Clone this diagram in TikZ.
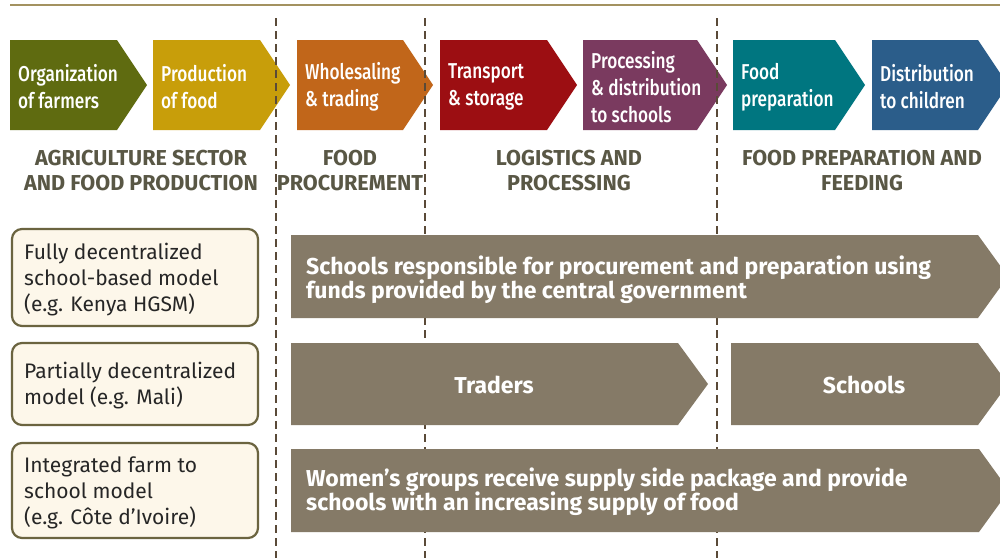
\documentclass[tikz,border=0pt]{standalone}
\usepackage{fontspec}
\setmainfont{Fira Sans}
\newfontfamily\condfont[FakeStretch=0.8, BoldFont={Fira Sans Medium}]{Fira Sans}
\usetikzlibrary{calc}
\definecolor{rulec}{HTML}{A39260}
\definecolor{dashc}{HTML}{5A4A38}
\definecolor{labc}{HTML}{595745}
\definecolor{boxfill}{HTML}{FDF7EA}
\definecolor{boxline}{HTML}{6B6440}
\definecolor{greyarrow}{HTML}{857A67}
\definecolor{colA}{HTML}{5F6B10}
\definecolor{colB}{HTML}{C89E0A}
\definecolor{colC}{HTML}{C1661A}
\definecolor{colD}{HTML}{9C0E12}
\definecolor{colE}{HTML}{7A3A5F}
\definecolor{colF}{HTML}{007680}
\definecolor{colG}{HTML}{2B5D8A}
\tikzset{
  chevtext/.style={anchor=west, inner sep=0pt, align=left, text=white,
    font=\condfont\bfseries\fontsize{21.5}{27}\selectfont},
  rowtext/.style={inner sep=0pt, align=left, text=white,
    font=\bfseries\fontsize{23}{24}\selectfont},
  seclabel/.style={inner sep=0pt, align=center, text=labc,
    font=\bfseries\fontsize{21.6}{25}\selectfont},
  modelbox/.style={draw=boxline, fill=boxfill, line width=2.2pt, rounded corners=10pt},
  modeltext/.style={anchor=west, inner sep=0pt, align=left, text=black!85,
    font=\fontsize{21}{26}\selectfont},
  divider/.style={draw=dashc, line width=2.2pt, dash pattern=on 8pt off 5pt},
}
% name, x1, x2 (end of straight part), y1, y2, colour
\newcommand\chevshape[6]{%
  \fill[#6] (#2,#4) -- (#3,#4) -- ({#3+30},{(#4+#5)/2}) -- (#3,#5) -- (#2,#5) -- cycle;
  \coordinate (#1) at ({#2+8},{(#4+#5)/2+2});
}
\begin{document}
\begin{tikzpicture}[x=1pt,y=-1pt]
\useasboundingbox (0,0) rectangle (1000,558);
\fill[white] (0,0) rectangle (1000,558);
% top rule
\coordinate (ruleL) at (10,5);
\coordinate (ruleR) at (1000,5);
\draw[rulec, line width=2.5pt] (ruleL) -- (ruleR);

% value chain chevrons
\chevshape{cA}{10}{117}{40}{130}{colA}
\chevshape{cB}{153}{260}{40}{130}{colB}
\chevshape{cC}{297}{403}{40}{130}{colC}
\chevshape{cD}{440}{547}{40}{130}{colD}
\chevshape{cE}{583}{697}{40}{130}{colE}
\chevshape{cF}{733}{835}{40}{130}{colF}
\chevshape{cG}{872}{978}{40}{130}{colG}
\node[chevtext] (tA) at (cA) {Organization\\of farmers};
\node[chevtext] (tB) at (cB) {Production\\of food};
\node[chevtext] (tC) at (cC) {Wholesaling\\\& trading};
\node[chevtext] (tD) at (cD) {Transport\\\& storage};
\node[chevtext] (tE) at (cE) {Processing\\\& distribution\\to schools};
\node[chevtext] (tF) at (cF) {Food\\preparation};
\node[chevtext] (tG) at (cG) {Distribution\\to children};

% dividers
\coordinate (d1t) at (276,18); \coordinate (d1b) at (276,558);
\coordinate (d2t) at (425,18); \coordinate (d2b) at (425,558);
\coordinate (d3t) at (717,18); \coordinate (d3b) at (717,558);
\draw[divider] (d1t) -- (d1b);
\draw[divider] (d2t) -- (d2b);
\draw[divider] (d3t) -- (d3b);

% section labels
\node[seclabel] (s1) at (141,171) {AGRICULTURE SECTOR\\AND FOOD PRODUCTION};
\node[seclabel] (s2) at (350,171) {FOOD\\PROCUREMENT};
\node[seclabel] (s3) at (569,171) {LOGISTICS AND\\PROCESSING};
\node[seclabel] (s4) at (862,171) {FOOD PREPARATION AND\\FEEDING};

% model boxes
\draw[modelbox] (12,229) rectangle (258,326);
\draw[modelbox] (12,343) rectangle (258,425);
\draw[modelbox] (12,443) rectangle (258,538);
\node[modeltext] (m1) at (24,279.5) {Fully decentralized\\school-based model\\(e.g. Kenya HGSM)};
\node[modeltext] (m2) at (24,386) {Partially decentralized\\model (e.g. Mali)};
\node[modeltext] (m3) at (24,492.5) {Integrated farm to\\school model\\(e.g. Côte d’Ivoire)};

% grey arrows
\chevshape{r1}{291}{978}{235}{318}{greyarrow}
\chevshape{r2a}{291}{678}{343}{425}{greyarrow}
\chevshape{r2b}{731}{978}{343}{425}{greyarrow}
\chevshape{r3}{291}{979}{449}{532}{greyarrow}
\node[rowtext, anchor=west] (w1) at (306,280) {Schools responsible for procurement and preparation using\\funds provided by the central government};
\node[rowtext] (w2a) at (494,385) {Traders};
\node[rowtext] (w2b) at (864,385) {Schools};
\node[rowtext, anchor=west] (w3) at (306,492) {Women’s groups receive supply side package and provide\\schools with an increasing supply of food};
\end{tikzpicture}
\end{document}
